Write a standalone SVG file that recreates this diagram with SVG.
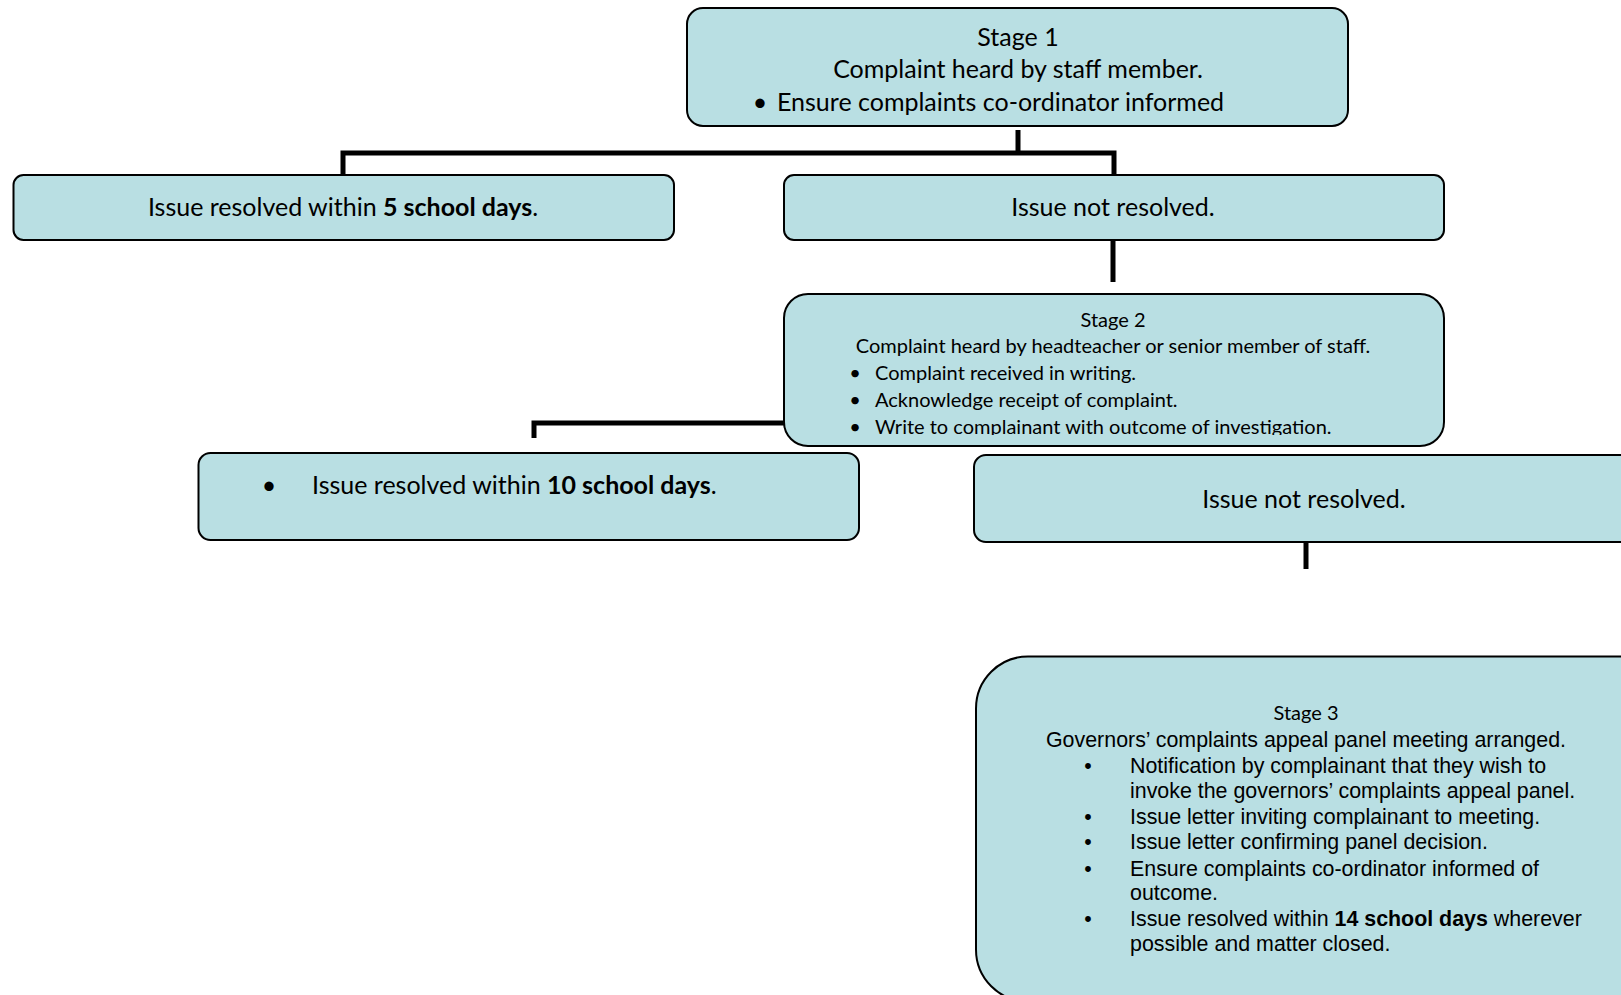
<svg xmlns="http://www.w3.org/2000/svg" width="1621" height="995" viewBox="0 0 1621 995">
<style>
.box{fill:#b9dfe3;stroke:#000;stroke-width:2}
.c{font-family:Lato,"Open Sans",sans-serif;fill:#000}
.big{font-size:25px}
.mid{font-size:20px}
.a{font-family:"Liberation Sans",Arial,sans-serif;font-size:21.4px;fill:#000}
.conn{fill:none;stroke:#000;stroke-width:5;stroke-linejoin:miter;stroke-linecap:butt}
</style>
<defs>
<clipPath id="clip2"><rect x="783" y="293" width="662" height="142"/></clipPath>
</defs>
<rect width="1621" height="995" fill="#fff"/>
<g id="connectors">
<path class="conn" d="M1018 130 V153"/>
<path class="conn" d="M343 175 V153 H1114 V175"/>
<path class="conn" d="M1113 240 V282"/>
<path class="conn" d="M534 438 V423 H786"/>
<path class="conn" d="M1306 542 V569"/>
</g>
<g id="stage1">
<rect class="box" x="687" y="8" width="661" height="118" rx="16"/>
<text class="c big" x="1018" y="46" text-anchor="middle">Stage 1</text>
<text class="c big" x="1018" y="78" text-anchor="middle">Complaint heard by staff member.</text>
<text class="c big" x="760" y="111" text-anchor="middle">•</text>
<text class="c big" x="777" y="111">Ensure complaints co-ordinator informed</text>
</g>
<g id="resolved5">
<rect class="box" x="13.5" y="175" width="660.5" height="65" rx="10"/>
<text class="c big" x="343" y="216" text-anchor="middle">Issue resolved within <tspan font-weight="bold">5 school days</tspan>.</text>
</g>
<g id="notresolved1">
<rect class="box" x="784" y="175" width="660" height="65" rx="10"/>
<text class="c big" x="1113" y="216" text-anchor="middle">Issue not resolved.</text>
</g>
<g id="stage2">
<rect class="box" x="784" y="294" width="660" height="152" rx="24"/>
<g clip-path="url(#clip2)">
<text class="c mid" x="1113" y="327" text-anchor="middle">Stage 2</text>
<text class="c mid" x="1113" y="353" text-anchor="middle">Complaint heard by headteacher or senior member of staff.</text>
<text class="c mid" x="855" y="380" text-anchor="middle">•</text>
<text class="c mid" x="875" y="380">Complaint received in writing.</text>
<text class="c mid" x="855" y="407" text-anchor="middle">•</text>
<text class="c mid" x="875" y="407">Acknowledge receipt of complaint.</text>
<text class="c mid" x="855" y="434" text-anchor="middle">•</text>
<text class="c mid" x="875" y="434">Write to complainant with outcome of investigation.</text>
</g>
</g>
<g id="resolved10">
<rect class="box" x="198.5" y="453" width="660.5" height="87" rx="12"/>
<text class="c big" x="269" y="494" text-anchor="middle">•</text>
<text class="c big" x="312" y="494">Issue resolved within <tspan font-weight="bold">10 school days</tspan>.</text>
</g>
<g id="notresolved2">
<rect class="box" x="974" y="455" width="700" height="87" rx="12"/>
<text class="c big" x="1304" y="508" text-anchor="middle">Issue not resolved.</text>
</g>
<g id="stage3">
<rect class="box" x="976" y="656.5" width="700" height="345" rx="52"/>
<text class="c mid" x="1306" y="720" text-anchor="middle">Stage 3</text>
<text class="a" x="1306" y="747" text-anchor="middle">Governors’ complaints appeal panel meeting arranged.</text>
<text class="a" x="1088" y="773" text-anchor="middle">•</text>
<text class="a" x="1130" y="773">Notification by complainant that they wish to</text>
<text class="a" x="1130" y="798">invoke the governors’ complaints appeal panel.</text>
<text class="a" x="1088" y="824" text-anchor="middle">•</text>
<text class="a" x="1130" y="824">Issue letter inviting complainant to meeting.</text>
<text class="a" x="1088" y="849" text-anchor="middle">•</text>
<text class="a" x="1130" y="849">Issue letter confirming panel decision.</text>
<text class="a" x="1088" y="876" text-anchor="middle">•</text>
<text class="a" x="1130" y="876">Ensure complaints co-ordinator informed of</text>
<text class="a" x="1130" y="900">outcome.</text>
<text class="a" x="1088" y="926" text-anchor="middle">•</text>
<text class="a" x="1130" y="926">Issue resolved within <tspan font-weight="bold">14 school days</tspan> wherever</text>
<text class="a" x="1130" y="951">possible and matter closed.</text>
</g>
</svg>
